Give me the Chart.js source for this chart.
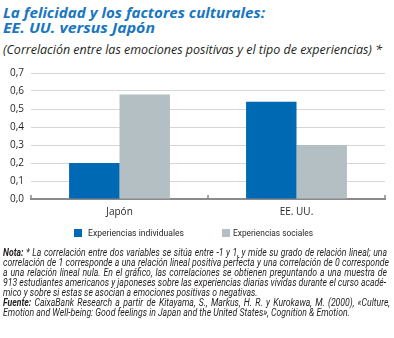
<!DOCTYPE html>
<html lang="es">
<head>
<meta charset="utf-8">
<title>La felicidad y los factores culturales</title>
<script src="https://cdn.jsdelivr.net/npm/chart.js@4.4.1/dist/chart.umd.min.js"></script>
<style>
  html, body { margin: 0; padding: 0; background: #fff; }
  body { width: 394px; height: 338px; position: relative; overflow: hidden; color: #231f20; }
  .fit, .note { position: absolute; left: 3px; white-space: nowrap; transform-origin: 0 0; display: inline-block; }
  .title { font: italic 700 14.5px/14.5px "Open Sans", sans-serif; color: #1a76c0; }
  #sub { font: italic 400 12px/12px "Open Sans", sans-serif; color: #231f20; }
  .note { font: italic 400 10.5px/10.5px Roboto, sans-serif; color: #231f20; }
  .note b { font-weight: 700; }
  #chartBox { position: absolute; left: 0; top: 60px; width: 394px; height: 168px; }
  .lg-box { position: absolute; width: 8px; height: 8px; top: 229px; }
  .lg-text { position: absolute; white-space: nowrap; transform-origin: 0 0;
             font: 400 9.5px/9.5px Roboto, sans-serif; color: #231f20; top: 228.2px; }
</style>
</head>
<body>
<div class="fit title" style="top:5.6px" data-w="262">La felicidad y los factores culturales:</div>
<div class="fit title" style="top:20.6px" data-w="152">EE. UU. versus Japón</div>
<div class="fit" id="sub" style="top:44.3px" data-w="379">(Correlación entre las emociones positivas y el tipo de experiencias) *</div>

<div id="chartBox"><canvas id="chart" width="394" height="168"></canvas></div>
<div id="legend"></div>

<div class="note" style="top:247.8px" data-w="384"><b>Nota:</b> * La correlación entre dos variables se sitúa entre -1 y 1, y mide su grado de relación lineal; una</div>
<div class="note" style="top:257.8px" data-w="386">correlación de 1 corresponde a una relación lineal positiva perfecta y una correlación de 0 corresponde</div>
<div class="note" style="top:267.8px" data-w="384">a una relación lineal nula. En el gráfico, las correlaciones se obtienen preguntando a una muestra de</div>
<div class="note" style="top:277.8px" data-w="383">913 estudiantes americanos y japoneses sobre las experiencias diarias vividas durante el curso acadé-</div>
<div class="note" style="top:287.8px">mico y sobre si estas se asocian a emociones positivas o negativas.</div>
<div class="note" style="top:297.8px" data-w="387"><b>Fuente:</b> CaixaBank Research a partir de Kitayama, S., Markus, H. R. y Kurokawa, M. (2000), «Culture,</div>
<div class="note" style="top:307.8px">Emotion and Well-being: Good feelings in Japan and the United States», Cognition &amp; Emotion.</div>

<script>
// Data
const categories = ["Japón", "EE. UU."];
const seriesNames = ["Experiencias individuales", "Experiencias sociales"];
const individuales = [0.20, 0.54];
const sociales = [0.58, 0.30];
const seriesColors = ["#0069b4", "#b4bfc4"];

// y axis: 0,0 ... 0,7 every 0,1
const yMin = 0;
const yMax = 0.7;
const yStep = 0.1;

// squeeze one text line to the width it has in the reference
function fitLine(el, target) {
  const natural = el.getBoundingClientRect().width;
  el.style.transform = "scaleX(" + target / natural + ")";
}

document.querySelectorAll(".fit").forEach((el) => fitLine(el, parseFloat(el.dataset.w)));

// note block: one common squeeze, then justify the full lines with word spacing
const noteLines = Array.from(document.querySelectorAll(".note"));
const noteWidths = noteLines.map((el) => el.getBoundingClientRect().width);
let squeeze = 1;
noteLines.forEach((el, i) => {
  if (el.dataset.w) squeeze = Math.min(squeeze, parseFloat(el.dataset.w) / noteWidths[i]);
});
noteLines.forEach((el, i) => {
  if (el.dataset.w) {
    const spaces = (el.textContent.match(/ /g) || []).length;
    const extra = parseFloat(el.dataset.w) / squeeze - noteWidths[i];
    el.style.wordSpacing = extra / spaces + "px";
  }
  el.style.transform = "scaleX(" + squeeze + ")";
});

// small upward marks at category boundaries on the base line
const boundaryTicks = {
  id: "boundaryTicks",
  afterDraw(chart) {
    const xs = chart.scales.x;
    const base = chart.scales.y.getPixelForValue(0);
    const ctx = chart.ctx;
    ctx.save();
    ctx.strokeStyle = "#8a8a8a";
    ctx.lineWidth = 1.5;
    for (let i = 0; i <= categories.length; i++) {
      const px = xs.left + (xs.width * i) / categories.length;
      ctx.beginPath();
      ctx.moveTo(px, base);
      ctx.lineTo(px, base - 4);
      ctx.stroke();
    }
    ctx.restore();
  },
};

const chart = new Chart(document.getElementById("chart"), {
  type: "bar",
  data: {
    labels: categories,
    datasets: [
      { label: seriesNames[0], data: individuales, backgroundColor: seriesColors[0] },
      { label: seriesNames[1], data: sociales, backgroundColor: seriesColors[1] },
    ],
  },
  options: {
    responsive: false,
    devicePixelRatio: 1,
    animation: false,
    layout: { padding: { top: 11, left: 3, right: 9, bottom: 2 } },
    datasets: { bar: { categoryPercentage: 0.57, barPercentage: 1.0, borderWidth: 0 } },
    plugins: { legend: { display: false }, tooltip: { enabled: false } },
    scales: {
      x: {
        grid: { display: false, drawTicks: false },
        border: { display: true, color: "#8a8a8a", width: 2 },
        ticks: { color: "#231f20", padding: 7.5, font: { family: "'Open Sans', sans-serif", size: 10 } },
      },
      y: {
        min: yMin,
        max: yMax,
        border: { display: false },
        grid: { color: "#d6d6d6", lineWidth: 1, drawTicks: false },
        ticks: {
          stepSize: yStep,
          padding: 7,
          color: "#231f20",
          font: { family: "'Open Sans', sans-serif", size: 10 },
          callback: (v) => v.toFixed(1).replace(".", ","),
        },
      },
    },
  },
  plugins: [boundaryTicks],
});

// legend built from the chart's datasets
const legendBoxLeft = [74, 222];
const legendTextLeft = [88, 233];
const legendTextWidth = [96, 80];
const legend = document.getElementById("legend");
chart.data.datasets.forEach((ds, i) => {
  const box = document.createElement("div");
  box.className = "lg-box";
  box.style.left = legendBoxLeft[i] + "px";
  box.style.background = ds.backgroundColor;
  legend.appendChild(box);
  const txt = document.createElement("div");
  txt.className = "lg-text";
  txt.style.left = legendTextLeft[i] + "px";
  txt.textContent = ds.label;
  legend.appendChild(txt);
  fitLine(txt, legendTextWidth[i]);
});
</script>
</body>
</html>
